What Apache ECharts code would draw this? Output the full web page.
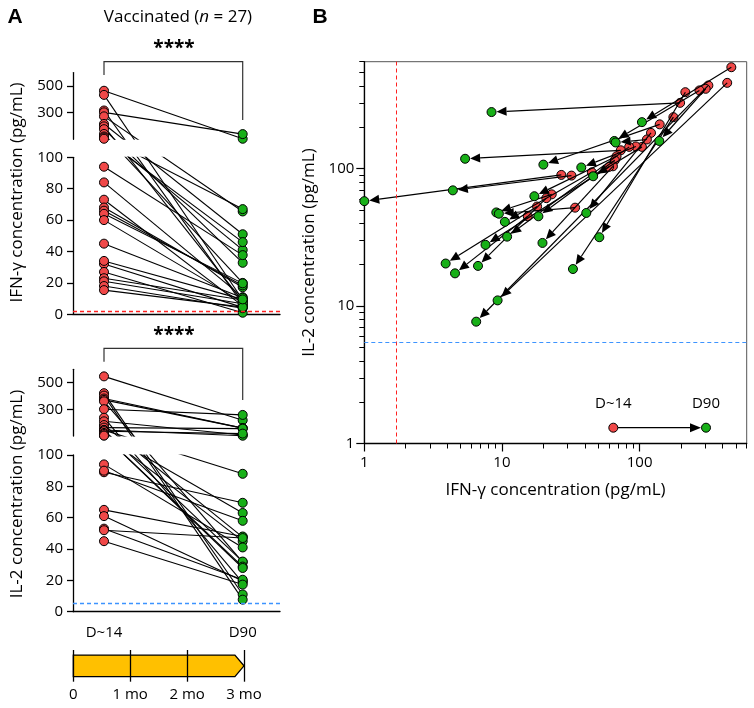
<!DOCTYPE html>
<html><head><meta charset="utf-8">
<script src="https://cdn.jsdelivr.net/npm/echarts@6/dist/echarts.min.js"></script>
<style>html,body{margin:0;padding:0;background:#fff}#c{width:754px;height:708px}</style>
</head><body><div id="c"></div>
<script>
// ---------- data (27 vaccinated subjects) ----------
const ifnD14 = [464, 433, 316, 302, 272, 215, 197, 176, 140, 121, 113, 104, 94, 84, 73, 68, 66, 64, 60, 45, 32, 27, 23, 21, 18, 15.4, 34];
const ifnD90 = [104, 9.3, 6.5, 139, 65.5, 51, 8.4, 32.8, 20, 41, 67, 46, 37.7, 10.9, 5.4, 17.2, 18.4, 19.7, 7.6, 10.5, 4.4, 1.0, 9.1, 6.7, 3.9, 4.56, 9.5];
const il2D14 = [547, 421, 403, 381, 371, 360, 301, 237, 210, 182, 163, 144, 145, 144, 136, 123, 115, 104, 103, 94, 89, 90, 65, 61, 53, 45, 52];
const il2D90 = [218, 11.0, 7.7, 159, 159, 31.7, 258, 18.6, 107, 47.6, 155, 88, 102, 32, 118, 63, 45, 28.8, 27.9, 41, 69.5, 58, 48, 19.6, 20.4, 17.3, 47];
const timeLabels = ['D~14', 'D90'];
const upperTicks = [100, 300, 500];
const logMajor = [1, 10, 100];
const logMinor = [2, 3, 4, 5, 6, 7, 8, 9, 20, 30, 40, 50, 60, 70, 80, 90, 200, 300, 400, 500, 600];
const monthLabels = ['0', '1 mo', '2 mo', '3 mo'];
const ifnLOD = 1.7;
const il2LOD = 5.5;

// ---------- styling ----------
const FONT = '"Open Sans"';
const RED = '#f04848', GREEN = '#18b018';
const LODRED = '#ff2020', LODBLUE = '#3d94ff';
const AXC = '#000';

// broken axis segments (pixel layout) for panel A
const segIfn = {upperTop: 72.6, upperH: 66.7, lowerTop: 157.3, lowerH: 157};
const segIl2 = {upperTop: 369.3, upperH: 66.7, lowerTop: 455, lowerH: 156.7};
function brk(seg) {
  const pl = seg.lowerH / 100;
  const uMin = 100 + (seg.lowerTop - seg.upperTop - seg.upperH) / pl;
  const span = seg.upperH / pl;
  const k = span / 500;
  return {uMin, uMax: uMin + span, f: v => v <= 100 ? v : uMin + (v - 100) * k, inv: u => 100 + (u - uMin) / k};
}
const bIfn = brk(segIfn), bIl2 = brk(segIl2);

const AL = 73, AW = 207;
const grids = [
  {left: AL, width: AW, top: segIfn.upperTop, height: segIfn.upperH},
  {left: AL, width: AW, top: segIfn.lowerTop, height: segIfn.lowerH},
  {left: AL, width: AW, top: segIl2.upperTop, height: segIl2.upperH},
  {left: AL, width: AW, top: segIl2.lowerTop, height: segIl2.lowerH},
  {left: 73.3, width: 170.7, top: 650, height: 31.7},
  {left: 364.3, top: 61.7, width: 382.4, height: 381.8, show: true, borderColor: '#555', borderWidth: 1}
];

const lblA = {color: '#000', fontSize: 15, fontFamily: FONT};
function xA(gi, line, labels) {
  return {type: 'value', gridIndex: gi, min: -0.2235, max: 1.269,
    axisLine: {show: line, onZero: false, lineStyle: {color: AXC, width: 1.3}},
    axisTick: {show: false}, splitLine: {show: false},
    axisLabel: labels ? Object.assign({customValues: [0, 1], formatter: v => timeLabels[Math.round(v)], margin: 14}, lblA) : {show: false}};
}
function yUpper(gi, b) {
  const vals = upperTicks.map(b.f);
  return {type: 'value', gridIndex: gi, min: b.uMin, max: b.uMax,
    axisLine: {show: true, onZero: false, lineStyle: {color: AXC, width: 1.3}},
    axisTick: {show: true, customValues: vals, length: 6, lineStyle: {color: AXC, width: 1.3}},
    axisLabel: Object.assign({customValues: vals, formatter: u => String(Math.round(b.inv(u))), margin: 10}, lblA),
    splitLine: {show: false}};
}
function yLower(gi) {
  return {type: 'value', gridIndex: gi, min: 0, max: 100, interval: 20,
    axisLine: {show: true, onZero: false, lineStyle: {color: AXC, width: 1.3}},
    axisTick: {show: true, length: 6, lineStyle: {color: AXC, width: 1.3}},
    axisLabel: Object.assign({margin: 10}, lblA),
    splitLine: {show: false}};
}
const lblB = {color: '#000', fontSize: 15, fontFamily: FONT};
const xAxes = [
  xA(0, false, false), xA(1, true, false), xA(2, false, false), xA(3, true, true),
  {type: 'value', gridIndex: 4, min: 0, max: 3, interval: 1, z: 5,
    axisLine: {show: false}, axisTick: {show: false},
    splitLine: {show: true, lineStyle: {color: '#000', width: 1.3}},
    axisLabel: Object.assign({formatter: v => monthLabels[Math.round(v)], margin: 6}, lblA)},
  {type: 'log', logBase: 10, gridIndex: 5, min: 1, max: 600, position: 'bottom',
    axisLine: {onZero: false, lineStyle: {color: AXC, width: 1.3}},
    axisTick: {customValues: logMajor, length: 8, lineStyle: {color: AXC, width: 1.2}},
    axisLabel: Object.assign({customValues: logMajor, margin: 12}, lblB),
    splitLine: {show: false},
    name: 'IFN-γ concentration (pg/mL)', nameLocation: 'middle', nameGap: 38,
    nameTextStyle: {fontSize: 17, fontFamily: FONT, color: '#000'}},
  {type: 'log', logBase: 10, gridIndex: 5, min: 1, max: 600, position: 'bottom',
    axisLine: {show: false}, axisTick: {customValues: logMinor, length: 5, lineStyle: {color: AXC, width: 1}},
    axisLabel: {show: false}, splitLine: {show: false}}
];
const yAxes = [
  yUpper(0, bIfn), yLower(1), yUpper(2, bIl2), yLower(3),
  {type: 'value', gridIndex: 4, min: 0, max: 1, show: false},
  {type: 'log', logBase: 10, gridIndex: 5, min: 1, max: 600, position: 'left',
    axisLine: {onZero: false, lineStyle: {color: AXC, width: 1.3}},
    axisTick: {customValues: logMajor, length: 8, lineStyle: {color: AXC, width: 1.2}},
    axisLabel: Object.assign({customValues: logMajor, margin: 10}, lblB),
    splitLine: {show: false},
    name: 'IL-2 concentration (pg/mL)', nameLocation: 'middle', nameGap: 41,
    nameTextStyle: {fontSize: 17, fontFamily: FONT, color: '#000'}},
  {type: 'log', logBase: 10, gridIndex: 5, min: 1, max: 600, position: 'left',
    axisLine: {show: false}, axisTick: {customValues: logMinor, length: 5, lineStyle: {color: AXC, width: 1}},
    axisLabel: {show: false}, splitLine: {show: false}}
];

const series = [];
const symStyle = c => ({color: c, borderColor: '#000', borderWidth: 1, opacity: 1});
function panelA(gi, d14, d90, b, lod, lodColor) {
  if (lod != null) {
    // limit-of-detection reference line for this cytokine
    series.push({type: 'line', xAxisIndex: gi, yAxisIndex: gi, silent: true, z: 1,
      data: [], markLine: {silent: true, symbol: 'none', label: {show: false},
        lineStyle: {color: lodColor, type: [4, 3], width: 1.3, opacity: 1},
        data: [{yAxis: lod, lineStyle: {color: lodColor, type: [4, 3], width: 1.3, opacity: 1}}]}});
  }
  for (let i = 0; i < d14.length; i++) {
    series.push({type: 'line', xAxisIndex: gi, yAxisIndex: gi, clip: true, silent: true,
      showSymbol: false, z: 2, data: [[0, b.f(d14[i])], [1, b.f(d90[i])]],
      lineStyle: {color: '#000', width: 1.1}});
  }
  series.push({type: 'scatter', xAxisIndex: gi, yAxisIndex: gi, clip: true, z: 4, symbolSize: 9,
    itemStyle: symStyle(RED), data: d14.map(v => [0, b.f(v)])});
  series.push({type: 'scatter', xAxisIndex: gi, yAxisIndex: gi, clip: true, z: 4, symbolSize: 9,
    itemStyle: symStyle(GREEN), data: d90.map(v => [1, b.f(v)])});
}
panelA(0, ifnD14, ifnD90, bIfn, null);
panelA(1, ifnD14, ifnD90, bIfn, ifnLOD, LODRED);
panelA(2, il2D14, il2D90, bIl2, null);
panelA(3, il2D14, il2D90, bIl2, il2LOD, LODBLUE);

// timeline arrow
series.push({type: 'custom', xAxisIndex: 4, yAxisIndex: 4, z: 1, data: [[0, 2.84, 3]],
  renderItem: (p, api) => {
    const a = api.coord([api.value(0), 0.84]), b = api.coord([api.value(1), 0.84]);
    const c = api.coord([api.value(2), 0.5]);
    const d = api.coord([api.value(1), 0.16]), e = api.coord([api.value(0), 0.16]);
    return {type: 'polygon', shape: {points: [a, b, c, d, e]},
      style: {fill: '#ffc000', stroke: '#000', lineWidth: 1.3}};
  }});

// panel B
const pairsB = ifnD14.map((v, i) => [v, il2D14[i], ifnD90[i], il2D90[i]]);
series.push({type: 'scatter', xAxisIndex: 5, yAxisIndex: 5, z: 3, symbolSize: 9,
  itemStyle: symStyle(RED), data: ifnD14.map((v, i) => [v, il2D14[i]]),
  markLine: {silent: true, symbol: 'none', label: {show: false},
    data: [{xAxis: ifnLOD, lineStyle: {color: LODRED, type: [4, 3], width: 1, opacity: 1}},
           {yAxis: il2LOD, lineStyle: {color: LODBLUE, type: [4, 3], width: 1, opacity: 1}}]}});
series.push({type: 'custom', xAxisIndex: 5, yAxisIndex: 5, z: 4, data: pairsB,
  encode: {x: [0, 2], y: [1, 3]},
  renderItem: (p, api) => {
    const p1 = api.coord([api.value(0), api.value(1)]);
    const p2 = api.coord([api.value(2), api.value(3)]);
    const dx = p2[0] - p1[0], dy = p2[1] - p1[1];
    const L = Math.hypot(dx, dy) || 1, ux = dx / L, uy = dy / L;
    const r = 5, ah = 10, aw = 4.5;
    const tip = [p2[0] - ux * r, p2[1] - uy * r];
    const base = [tip[0] - ux * ah, tip[1] - uy * ah];
    const l = [base[0] - uy * aw, base[1] + ux * aw], rr = [base[0] + uy * aw, base[1] - ux * aw];
    return {type: 'group', children: [
      {type: 'line', shape: {x1: p1[0], y1: p1[1], x2: base[0], y2: base[1]}, style: {stroke: '#000', lineWidth: 1.2}},
      {type: 'polygon', shape: {points: [tip, l, rr]}, style: {fill: '#000'}}
    ]};
  }});
series.push({type: 'scatter', xAxisIndex: 5, yAxisIndex: 5, z: 5, symbolSize: 9,
  itemStyle: symStyle(GREEN), data: ifnD90.map((v, i) => [v, il2D90[i]])});

const txt = (x, y, text, font, extra) => Object.assign({type: 'text', x, y, silent: true,
  style: {text, font, fill: '#000', textAlign: 'center', textVerticalAlign: 'middle', align: 'center', verticalAlign: 'middle'}}, extra || {});
const graphic = [
  txt(15, 17, 'A', 'bold 21px "Liberation Sans"'),
  txt(320, 17, 'B', 'bold 21px "Liberation Sans"'),
  {type: 'text', x: 178, y: 17, silent: true, style: {
    text: '{a|Vaccinated (}{b|n}{a| = 27)}', align: 'center', verticalAlign: 'middle',
    textAlign: 'center', textVerticalAlign: 'middle',
    rich: {a: {fontSize: 17, fontFamily: 'Open Sans', fill: '#000'}, b: {fontSize: 17, fontFamily: 'Open Sans', fontStyle: 'italic', fill: '#000'}}}},
  txt(17, 192.5, 'IFN-γ concentration (pg/mL)', '17px ' + FONT, {rotation: Math.PI / 2}),
  txt(17, 494, 'IL-2 concentration (pg/mL)', '17px ' + FONT, {rotation: Math.PI / 2}),
  txt(174, 49, '****', 'bold 19px ' + FONT),
  txt(174, 336, '****', 'bold 19px ' + FONT),
  {type: 'polyline', silent: true, shape: {points: [[104, 75], [104, 61.7], [242.7, 61.7], [242.7, 120]]}, style: {stroke: '#333', lineWidth: 1.2, fill: null}},
  {type: 'polyline', silent: true, shape: {points: [[104, 361.7], [104, 348.3], [242.7, 348.3], [242.7, 400]]}, style: {stroke: '#333', lineWidth: 1.2, fill: null}},
  // legend of panel B
  txt(613.3, 403.3, timeLabels[0], '15px ' + FONT),
  txt(706, 403.3, timeLabels[1], '15px ' + FONT),
  {type: 'line', silent: true, shape: {x1: 618, y1: 427.7, x2: 691, y2: 427.7}, style: {stroke: '#000', lineWidth: 1.2}},
  {type: 'polygon', silent: true, shape: {points: [[701, 427.7], [690, 423.2], [690, 432.2]]}, style: {fill: '#000'}},
  {type: 'circle', silent: true, shape: {cx: 613.3, cy: 427.7, r: 4.5}, style: {fill: RED, stroke: '#000', lineWidth: 1}},
  {type: 'circle', silent: true, shape: {cx: 706, cy: 427.7, r: 4.5}, style: {fill: GREEN, stroke: '#000', lineWidth: 1}}
];

const chart = echarts.init(document.getElementById('c'));
chart.setOption({
  animation: false,
  backgroundColor: '#fff',
  textStyle: {fontFamily: FONT},
  grid: grids, xAxis: xAxes, yAxis: yAxes, series, graphic
});
</script>
</body></html>
